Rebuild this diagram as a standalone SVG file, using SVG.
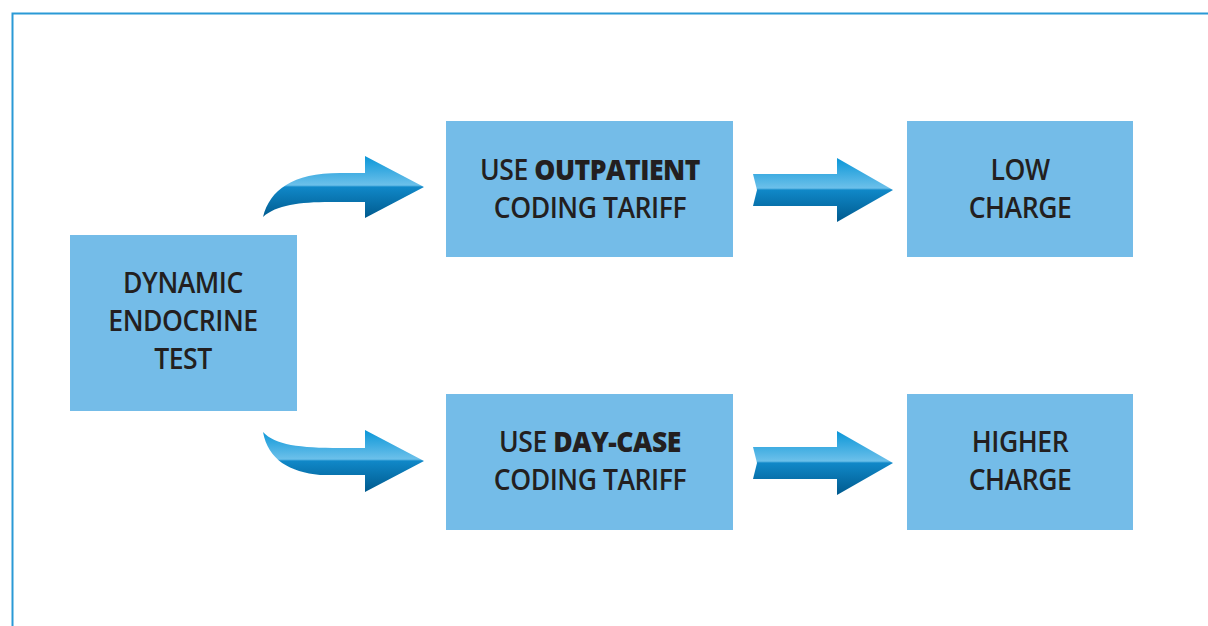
<svg xmlns="http://www.w3.org/2000/svg" width="1208" height="626" viewBox="0 0 1208 626">
<defs>
<linearGradient id="g" x1="0" y1="0" x2="0" y2="1">
<stop offset="0" stop-color="#0a96d8"/>
<stop offset="0.47" stop-color="#6cc0ea"/>
<stop offset="0.5" stop-color="#1088c8"/>
<stop offset="1" stop-color="#005a8e"/>
</linearGradient>
<style>
.box{fill:#74bce8}
.t{font-family:"Open Sans","Liberation Sans",sans-serif;font-size:28px;font-weight:600;fill:#231f20;text-anchor:middle;letter-spacing:-0.5px}
.b{font-weight:800}
.arr{fill:url(#g)}
</style>
</defs>
<rect x="0" y="0" width="1208" height="626" fill="#fff"/>
<path d="M12.5,626 V13.5 H1208" fill="none" stroke="#2a9ad6" stroke-width="2"/>
<g id="connectors">
<path class="arr" d="M263,217 C270,190 292,173 340,173 L365,173 L365,156 L424,187 L365,218 L365,202 L330,202 C300,202 276,205 263,217 Z"/>
<path class="arr" d="M263,432 C275,445 300,448 340,448 L365,448 L365,430 L424,461 L365,492 L365,475 L320,475 C290,472 268,460 263,432 Z"/>
<path class="arr" d="M753,174 L837,174 L837,158 L893,190 L837,222 L837,206 L753,206 L757,190 Z"/>
<path class="arr" d="M753,447 L837,447 L837,431 L893,463 L837,495 L837,479 L753,479 L757,463 Z"/>
</g>
<g id="dynamic">
<rect class="box" x="70" y="235" width="227" height="176"/>
<text class="t" transform="translate(183,293) scale(0.95,1)">DYNAMIC</text>
<text class="t" transform="translate(183,331) scale(0.95,1)">ENDOCRINE</text>
<text class="t" transform="translate(183,369) scale(0.95,1)">TEST</text>
</g>
<g id="outpatient">
<rect class="box" x="446" y="121" width="287" height="136"/>
<text class="t" transform="translate(590,180) scale(0.95,1)">USE <tspan class="b">OUTPATIENT</tspan></text>
<text class="t" transform="translate(590,218) scale(0.95,1)">CODING TARIFF</text>
</g>
<g id="low">
<rect class="box" x="907" y="121" width="226" height="136"/>
<text class="t" transform="translate(1020,180) scale(0.95,1)">LOW</text>
<text class="t" transform="translate(1020,218) scale(0.95,1)">CHARGE</text>
</g>
<g id="daycase">
<rect class="box" x="446" y="394" width="287" height="136"/>
<text class="t" transform="translate(590,452) scale(0.95,1)">USE <tspan class="b">DAY-CASE</tspan></text>
<text class="t" transform="translate(590,490) scale(0.95,1)">CODING TARIFF</text>
</g>
<g id="higher">
<rect class="box" x="907" y="394" width="226" height="136"/>
<text class="t" transform="translate(1020,452) scale(0.95,1)">HIGHER</text>
<text class="t" transform="translate(1020,490) scale(0.95,1)">CHARGE</text>
</g>
</svg>
